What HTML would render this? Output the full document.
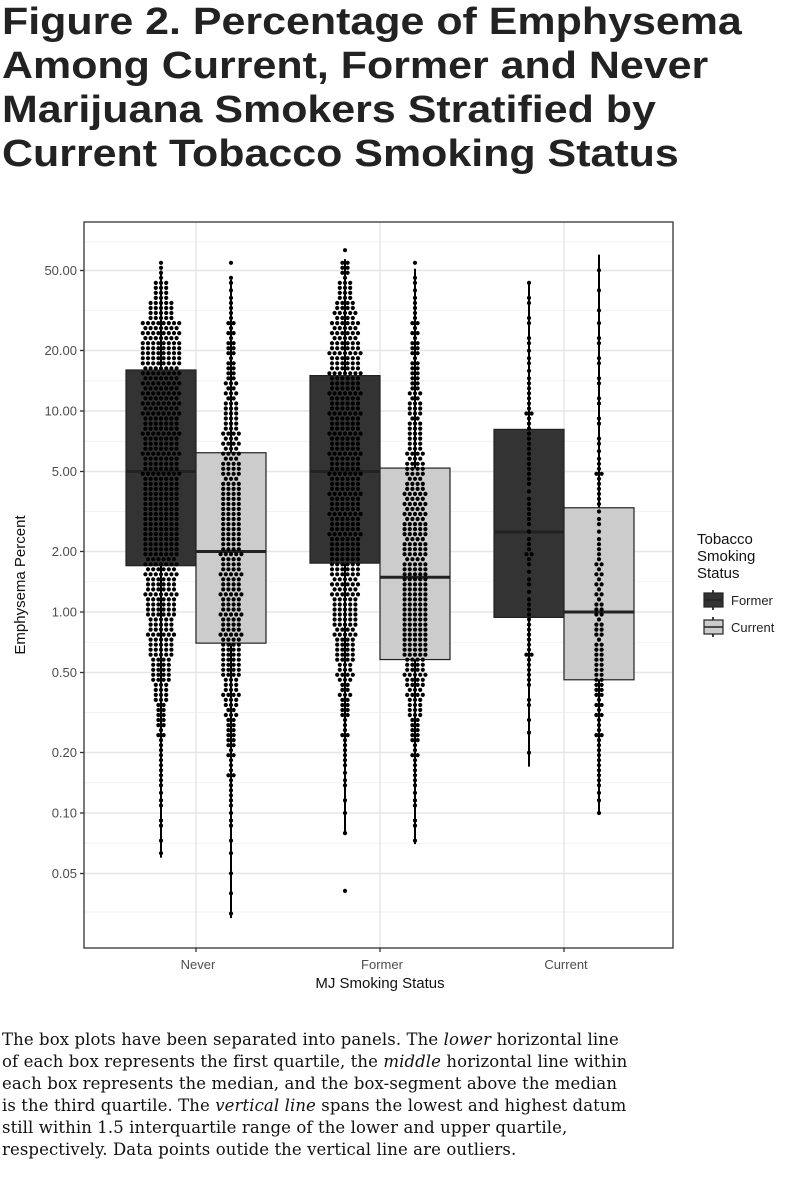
<!DOCTYPE html>
<html><head><meta charset="utf-8">
<style>
body{margin:0;background:#fff;width:800px;height:1191px;overflow:hidden;}
#title{position:absolute;left:2px;top:0px;font:bold 38px/44px "Liberation Sans",sans-serif;color:#222;margin:0;transform:scaleX(1.13);transform-origin:left top;white-space:nowrap;}
#caption{position:absolute;left:2px;top:1029px;width:796px;font:16.5px/22px "DejaVu Serif","Liberation Serif",serif;color:#111;margin:0;white-space:nowrap;letter-spacing:0.1px;}
svg{position:absolute;left:0;top:0;}
</style></head><body>
<h1 id="title">Figure 2. Percentage of Emphysema<br>Among Current, Former and Never<br>Marijuana Smokers Stratified by<br>Current Tobacco Smoking Status</h1>
<svg id="chart" width="800" height="1010"></svg>
<p id="caption">The box plots have been separated into panels. The <i>lower</i> horizontal line<br>of each box represents the first quartile, the <i>middle</i> horizontal line within<br>each box represents the median, and the box-segment above the median<br>is the third quartile. The <i>vertical line</i> spans the lowest and highest datum<br>still within 1.5 interquartile range of the lower and upper quartile,<br>respectively. Data points outide the vertical line are outliers.</p>
<script>
const categories = ["Never","Former","Current"];
const statuses = ["Former","Current"];
const yTicks = [0.05,0.1,0.2,0.5,1,2,5,10,20,50];
const yTickLabels = ["0.05","0.10","0.20","0.50","1.00","2.00","5.00","10.00","20.00","50.00"];
const q1 = [[1.7,0.7],[1.75,0.58],[0.94,0.46]];
const med = [[5,2.0],[5,1.49],[2.5,1.0]];
const q3 = [[16,6.2],[15,5.2],[8.1,3.3]];
const wLow = [[0.06,0.03],[0.08,0.07],[0.17,0.1]];
const wHigh = [[50,45],[57,51],[43,60]];
const outliers = [[[],[]],[[0.041],[]],[[],[]]];
// dot counts per 0.1-decade bin, bins from log10=1.8 down to -1.6
const binTop = 1.8;
const dotsNeverFormer = [0,4,12,20,30,32,30,30,30,29,29,29,28,28,28,27,26,25,23,21,19,16,12,8,6,4,4,3,2,2,1,0,0,0,0];
const dotsNeverCurrent = [0,2,3,4,6,7,8,10,12,13,14,15,16,16,16,17,17,17,17,17,16,15,13,10,8,6,5,4,3,2,1,1,1,1,0];
const dotsFormerFormer = [1,7,12,17,22,25,25,25,25,25,25,25,25,25,25,24,23,22,20,18,16,13,9,7,5,4,3,2,1,1,0,0,0,0,0];
const dotsFormerCurrent = [0,2,3,4,6,7,8,9,11,12,13,15,17,18,19,19,20,20,20,20,19,17,14,11,8,5,4,3,2,2,0,0,0,0,0];
const dotsCurrentFormer = [0,0,2,2,2,3,3,4,5,4,4,4,3,4,3,5,3,3,4,4,5,4,2,2,1,1,0,0,0,0,0,0,0,0,0];
const dotsCurrentCurrent = [0,1,1,1,2,2,2,2,2,2,3,5,4,3,3,4,6,6,7,7,8,8,7,6,5,4,4,3,1,0,0,0,0,0,0];
const dots = [[dotsNeverFormer,dotsNeverCurrent],[dotsFormerFormer,dotsFormerCurrent],[dotsCurrentFormer,dotsCurrentCurrent]];

const NS="http://www.w3.org/2000/svg";
const svg=document.getElementById('chart');
const P={l:84,r:673,t:222,b:948};
function y(v){return 612-201*Math.log10(v);}
function yL(L){return 612-201*L;}
function x(ci){return 196+184*ci;}
const boxW=70;
function mk(tag,attrs,parent){const e=document.createElementNS(NS,tag);for(const k in attrs)e.setAttribute(k,attrs[k]);(parent||svg).appendChild(e);return e;}

const panel=mk('rect',{x:P.l,y:P.t,width:P.r-P.l,height:P.b-P.t,fill:'#fff'});


const majorY=yTicks.map(y);
const minorY=[];
for(let i=0;i<majorY.length-1;i++)minorY.push((majorY[i]+majorY[i+1])/2);
minorY.push(242);minorY.push(912);
minorY.forEach(py=>{const g=mk('line',{x1:P.l,x2:P.r,y1:py,y2:py,stroke:'#f2f2f2','stroke-width':1});

});
majorY.forEach(py=>{const g=mk('line',{x1:P.l,x2:P.r,y1:py,y2:py,stroke:'#e6e6e6','stroke-width':1.4});

});
categories.forEach((c,ci)=>{const g=mk('line',{x1:x(ci),x2:x(ci),y1:P.t,y2:P.b,stroke:'#e6e6e6','stroke-width':1.4});

});

categories.forEach((c,ci)=>{
 statuses.forEach((s,si)=>{
  const cx = si===0 ? x(ci)-boxW/2 : x(ci)+boxW/2;
  const x0 = si===0 ? x(ci)-boxW : x(ci);
  const fill = si===0 ? '#333333' : '#cccccc';
  const wl=mk('line',{x1:cx,x2:cx,y1:y(wHigh[ci][si]),y2:y(wLow[ci][si]),stroke:'#000','stroke-width':2});
  
  
  const b=mk('rect',{x:x0,y:y(q3[ci][si]),width:boxW,height:y(q1[ci][si])-y(q3[ci][si]),fill:fill,stroke:'#222','stroke-width':1.2});
  
  
  const m=mk('line',{x1:x0,x2:x0+boxW,y1:y(med[ci][si]),y2:y(med[ci][si]),stroke:'#222','stroke-width':3});
  
  
 });
});
const sp=5.2, r=2.1;
categories.forEach((c,ci)=>{
 statuses.forEach((s,si)=>{
  const cx = si===0 ? x(ci)-boxW/2 : x(ci)+boxW/2;
  const arr=dots[ci][si];
  arr.forEach((n,bi)=>{
   if(!n)return;
   const L=binTop-bi*0.1;
   const rows=n>=4?4:n;
   let rem=n;
   for(let ri=0;ri<rows;ri++){
    const k=Math.round(rem/(rows-ri)); rem-=k;
    const py=yL(L)+ (rows===1?0:(-7.5+ri*(15/(rows-1))));
    for(let j=0;j<k;j++){
     const off=(j-(k-1)/2)*sp;
     const d=mk('circle',{cx:cx+off,cy:py,r:r,fill:'#000'});
     
     
    }
   }
  });
  outliers[ci][si].forEach(v=>{const d=mk('circle',{cx:cx,cy:y(v),r:r,fill:'#000'});
   
   });
 });
});
const bd=mk('rect',{x:P.l,y:P.t,width:P.r-P.l,height:P.b-P.t,fill:'none',stroke:'#333','stroke-width':1.3});


yTicks.forEach((v,i)=>{
 const t=mk('line',{x1:P.l-4,x2:P.l,y1:y(v),y2:y(v),stroke:'#333','stroke-width':1.3});
 
 
 const tx=mk('text',{x:P.l-7,y:y(v)+4.5,'text-anchor':'end','font-family':'Liberation Sans, sans-serif','font-size':13,fill:'#4d4d4d'});
 tx.textContent=yTickLabels[i];
 
 
});
categories.forEach((c,ci)=>{
 const t=mk('line',{x1:x(ci),x2:x(ci),y1:P.b,y2:P.b+4,stroke:'#333','stroke-width':1.3});
 
 
 const tx=mk('text',{x:x(ci)+2,y:P.b+21,'text-anchor':'middle','font-family':'Liberation Sans, sans-serif','font-size':13,fill:'#4d4d4d'});
 tx.textContent=c;
 
 
});
const xt=mk('text',{x:380,y:988,'text-anchor':'middle','font-family':'Liberation Sans, sans-serif','font-size':15,fill:'#111'});
xt.textContent='MJ Smoking Status';


const yt=mk('text',{x:0,y:0,'text-anchor':'middle','font-family':'Liberation Sans, sans-serif','font-size':15,fill:'#111',transform:'translate(25,585) rotate(-90)'});
yt.textContent='Emphysema Percent';


['Tobacco','Smoking','Status'].forEach((w,i)=>{
 const t=mk('text',{x:697,y:544+i*17,'font-family':'Liberation Sans, sans-serif','font-size':15,fill:'#111'});
 t.textContent=w;
 
 
});
statuses.forEach((s,si)=>{
 const ky=590+si*27;
 const g=mk('g',{});
 
 
 mk('line',{x1:713,x2:713,y1:ky,y2:ky+20,stroke:'#000','stroke-width':1.5},g);
 mk('rect',{x:704,y:ky+3,width:19,height:14,fill:si===0?'#333':'#ccc',stroke:'#222','stroke-width':1.2},g);
 mk('line',{x1:704,x2:723,y1:ky+10,y2:ky+10,stroke:'#222','stroke-width':1.5},g);
 const t=mk('text',{x:731,y:ky+15,'font-family':'Liberation Sans, sans-serif','font-size':13,fill:'#222'},g);
 t.textContent=s;
});
</script>
</body></html>
